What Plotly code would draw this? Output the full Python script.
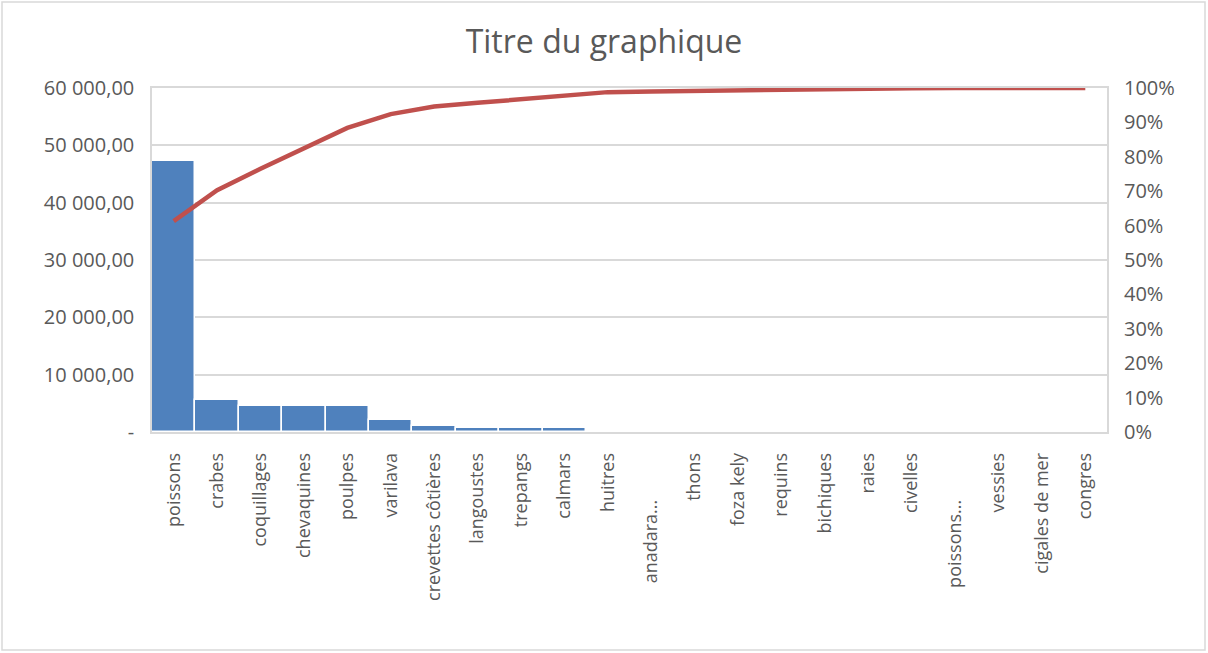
import plotly.graph_objects as go

categories = ["poissons", "crabes", "coquillages", "chevaquines", "poulpes", "varilava",
              "crevettes côtières", "langoustes", "trepangs", "calmars", "huitres", "anadara...",
              "thons", "foza kely", "requins", "bichiques", "raies", "civelles", "poissons...",
              "vessies", "cigales de mer", "congres"]
quantities = [47200, 5550, 4550, 4550, 4550, 2050, 1050, 700, 700, 700,
              60, 50, 40, 40, 30, 30, 20, 20, 15, 10, 10, 10]
cumulative_pct = [0.613, 0.703, 0.765, 0.823, 0.884, 0.924, 0.946, 0.957, 0.968, 0.978,
                  0.988, 0.990, 0.992, 0.992, 0.994, 0.998, 0.999, 0.999, 1.0, 1.0, 1.0, 1.0]
left_tickvals = [0, 10000, 20000, 30000, 40000, 50000, 60000]
left_ticktext = ["-", "10 000,00", "20 000,00", "30 000,00", "40 000,00", "50 000,00", "60 000,00"]
right_tickvals = [i / 10 for i in range(11)]
right_ticktext = [f"{i * 10}%" for i in range(11)]

# truncated labels sit lower in the original (padding with non-breaking spaces)
x_ticktext = [c + "\u00a0" * 10 if c.endswith("...") else c for c in categories]

FONT = "Open Sans"
GREY = "#595959"
LINE = "#d9d9d9"

fig = go.Figure()
fig.add_trace(go.Bar(x=categories, y=quantities,
                     marker=dict(color="#4f81bd", line=dict(color="white", width=1.5)),
                     name="Quantité", showlegend=False))
fig.add_trace(go.Scatter(x=categories, y=cumulative_pct, mode="lines", yaxis="y2",
                         line=dict(color="#c0504d", width=4.5), name="Cumul", showlegend=False))

fig.update_layout(
    width=1208, height=653,
    margin=dict(l=152, r=101, t=88, b=221),
    paper_bgcolor="white", plot_bgcolor="white",
    bargap=0.0,
    font=dict(family=FONT, color=GREY, size=19),
    title=dict(text="Titre du graphique", x=0.5, xanchor="center", y=1 - 42 / 653, yanchor="middle",
               font=dict(family=FONT, size=32, color=GREY)),
    xaxis=dict(showline=True, linecolor=LINE, linewidth=1.5, mirror=True, tickangle=-90,
               tickmode="array", tickvals=categories, ticktext=x_ticktext,
               ticks="outside", ticklen=12, tickcolor="rgba(0,0,0,0)", showgrid=False,
               tickfont=dict(size=18, color=GREY)),
    yaxis=dict(range=[0, 60000], tickvals=left_tickvals, ticktext=left_ticktext,
               showline=True, linecolor=LINE, linewidth=1.5, mirror=True,
               showgrid=True, gridcolor=LINE, gridwidth=1.5, zeroline=False,
               ticks="outside", ticklen=12, tickcolor="rgba(0,0,0,0)", tickfont=dict(size=20, color=GREY)),
    yaxis2=dict(range=[0, 1], tickvals=right_tickvals, ticktext=right_ticktext, overlaying="y", side="right",
                showgrid=False, zeroline=False, ticks="outside", ticklen=12, tickcolor="rgba(0,0,0,0)",
                tickfont=dict(size=20, color=GREY)),
)

fig.add_shape(type="rect", xref="paper", yref="paper",
              x0=(2 - 152) / 955, x1=(1205 - 152) / 955, y0=(432 - 650) / 344, y1=(432 - 2) / 344,
              line=dict(color=LINE, width=1.5), fillcolor="rgba(0,0,0,0)", layer="below")

fig.write_html("out.html", config={"displayModeBar": False},
               post_script="document.body.style.margin='0px';document.body.style.overflow='hidden';")
